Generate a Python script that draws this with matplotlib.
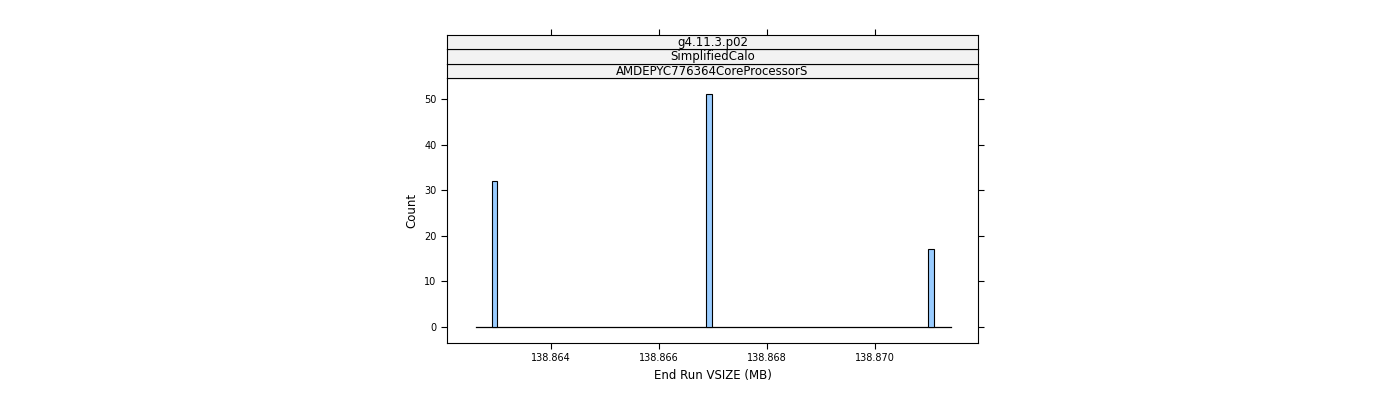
import matplotlib
matplotlib.use("Agg")
import matplotlib.pyplot as plt

bin_centers = [138.86295, 138.86693, 138.87104]
counts = [32, 51, 17]
bin_width = 0.00011
baseline_range = [138.8626, 138.8714]
strips = ["g4.11.3.p02", "SimplifiedCalo", "AMDEPYC776364CoreProcessorS"]
xticks = [138.864, 138.866, 138.868, 138.870]
yticks = [0, 10, 20, 30, 40, 50]

fig = plt.figure(figsize=(14, 4), dpi=100)
L, W = 447/1400, 531/1400
ax = fig.add_axes([L, 57/400, W, 265/400])
ax.plot(baseline_range, [0, 0], color="black", lw=0.9, zorder=1)
ax.bar(bin_centers, counts, width=bin_width, color="#99ccff", edgecolor="black", lw=0.8, zorder=2)
ax.set_xlim(138.86207, 138.871907)
ax.set_ylim(-3.5, 54.6)
ax.set_xticks(xticks)
ax.set_xticklabels([f"{v:.3f}" for v in xticks], fontsize=7)
ax.set_yticks(yticks)
ax.set_yticklabels([str(v) for v in yticks], fontsize=7)
ax.tick_params(direction="out", right=True, length=4, width=0.8)
ax.set_xlabel("End Run VSIZE (MB)", fontsize=8.5)
ax.set_ylabel("Count", fontsize=8.5)
for s in ax.spines.values():
    s.set_linewidth(0.8)

for i, txt in enumerate(reversed(strips)):
    sa = fig.add_axes([L, (322 + i*14.5)/400, W, 14.5/400])
    sa.set_facecolor("#f2f2f2")
    sa.set_xticks([]); sa.set_yticks([])
    for s in sa.spines.values():
        s.set_linewidth(0.8)
    sa.text(0.5, 0.45, txt, ha="center", va="center", fontsize=8.5, transform=sa.transAxes)
    if i == len(strips) - 1:
        sa.set_xlim(ax.get_xlim())
        sa.set_xticks(xticks)
        sa.tick_params(axis="x", top=True, bottom=False, labeltop=False, labelbottom=False,
                       direction="out", length=4, width=0.8)

fig.savefig("out.png", dpi=100)
